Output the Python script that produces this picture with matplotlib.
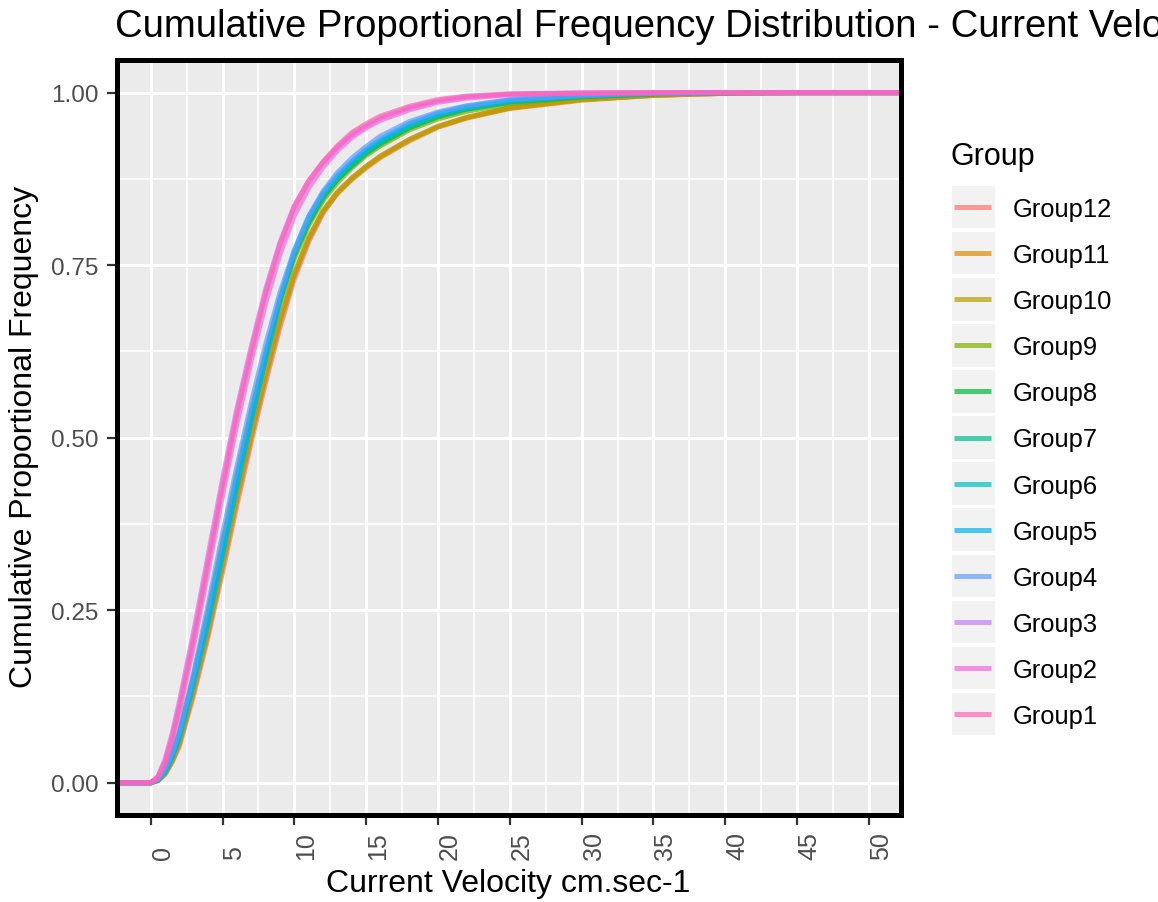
import matplotlib
matplotlib.use("Agg")
import matplotlib.pyplot as plt
from matplotlib.patches import Rectangle
from matplotlib.ticker import MultipleLocator

plt.rcParams['font.family'] = ['Liberation Sans', 'DejaVu Sans']

# velocity grid (cm/sec) and cumulative proportions
velocity = [-5, 0, 0.5, 1, 1.5, 2, 3, 4, 5, 6, 7, 8, 9, 10, 11, 12, 13, 14, 15, 16, 18, 20, 22, 25, 30, 35, 40, 45, 60]

group1 = [0, 0, 0.008, 0.030, 0.066, 0.110, 0.210, 0.320, 0.430, 0.535, 0.625, 0.710, 0.780, 0.835, 0.872, 0.900, 0.923, 0.942, 0.955, 0.966, 0.980, 0.990, 0.995, 0.998, 0.9995, 1, 1, 1, 1]
group2 = [0, 0, 0.007, 0.027, 0.062, 0.103, 0.200, 0.308, 0.417, 0.520, 0.612, 0.695, 0.766, 0.822, 0.862, 0.892, 0.916, 0.935, 0.949, 0.960, 0.975, 0.986, 0.992, 0.997, 0.999, 1, 1, 1, 1]
group3 = [0, 0, 0.009, 0.034, 0.072, 0.118, 0.220, 0.330, 0.440, 0.542, 0.632, 0.715, 0.783, 0.836, 0.872, 0.899, 0.921, 0.939, 0.952, 0.963, 0.978, 0.988, 0.994, 0.998, 0.9995, 1, 1, 1, 1]
group4 = [0, 0, 0.005, 0.020, 0.044, 0.075, 0.160, 0.258, 0.360, 0.458, 0.550, 0.635, 0.710, 0.772, 0.821, 0.857, 0.884, 0.905, 0.922, 0.937, 0.958, 0.972, 0.981, 0.990, 0.996, 0.999, 1, 1, 1]
group5 = [0, 0, 0.004, 0.015, 0.037, 0.065, 0.145, 0.232, 0.330, 0.430, 0.525, 0.615, 0.700, 0.770, 0.820, 0.855, 0.880, 0.900, 0.918, 0.932, 0.955, 0.970, 0.980, 0.989, 0.996, 0.999, 1, 1, 1]
group6 = [0, 0, 0.004, 0.016, 0.038, 0.067, 0.148, 0.236, 0.334, 0.433, 0.527, 0.616, 0.699, 0.767, 0.816, 0.852, 0.878, 0.898, 0.916, 0.930, 0.953, 0.968, 0.978, 0.988, 0.995, 0.999, 1, 1, 1]
group7 = [0, 0, 0.004, 0.017, 0.040, 0.070, 0.152, 0.242, 0.341, 0.440, 0.533, 0.620, 0.700, 0.766, 0.814, 0.850, 0.876, 0.896, 0.914, 0.928, 0.951, 0.967, 0.977, 0.987, 0.995, 0.999, 1, 1, 1]
group8 = [0, 0, 0.005, 0.018, 0.042, 0.072, 0.156, 0.248, 0.348, 0.447, 0.538, 0.623, 0.701, 0.765, 0.812, 0.848, 0.874, 0.894, 0.912, 0.926, 0.949, 0.965, 0.976, 0.986, 0.994, 0.998, 1, 1, 1]
group9 = [0, 0, 0.004, 0.016, 0.039, 0.068, 0.149, 0.239, 0.338, 0.436, 0.528, 0.614, 0.694, 0.760, 0.808, 0.844, 0.870, 0.891, 0.909, 0.923, 0.946, 0.962, 0.973, 0.984, 0.993, 0.998, 1, 1, 1]
group10 = [0, 0, 0.003, 0.013, 0.032, 0.058, 0.135, 0.220, 0.316, 0.414, 0.505, 0.590, 0.670, 0.738, 0.790, 0.829, 0.856, 0.876, 0.893, 0.908, 0.932, 0.951, 0.964, 0.978, 0.990, 0.996, 0.999, 1, 1]
group11 = [0, 0, 0.003, 0.013, 0.032, 0.057, 0.133, 0.218, 0.313, 0.411, 0.502, 0.588, 0.668, 0.736, 0.788, 0.827, 0.854, 0.874, 0.891, 0.906, 0.930, 0.950, 0.963, 0.977, 0.989, 0.996, 0.999, 1, 1]
group12 = [0, 0, 0.003, 0.012, 0.030, 0.053, 0.128, 0.212, 0.305, 0.402, 0.494, 0.580, 0.660, 0.730, 0.784, 0.826, 0.855, 0.876, 0.893, 0.908, 0.932, 0.951, 0.964, 0.978, 0.990, 0.996, 0.999, 1, 1]

# legend order, top to bottom (also drawing order, Group1 ends on top)
group_names = ['Group12', 'Group11', 'Group10', 'Group9', 'Group8', 'Group7',
               'Group6', 'Group5', 'Group4', 'Group3', 'Group2', 'Group1']
group_values = [group12, group11, group10, group9, group8, group7,
                group6, group5, group4, group3, group2, group1]
colors = ['#F8766D', '#DE8C00', '#B79F00', '#7CAE00', '#00BA38', '#00C08B',
          '#00BFC4', '#00B4F0', '#619CFF', '#C77CFF', '#F564E3', '#FF64B0']

x_ticks = [0, 5, 10, 15, 20, 25, 30, 35, 40, 45, 50]
y_ticks = [0.0, 0.25, 0.5, 0.75, 1.0]
y_ticklabels = ['0.00', '0.25', '0.50', '0.75', '1.00']

W, H = 1158, 903
fig = plt.figure(figsize=(W / 100, H / 100), dpi=100)

# panel in pixel units
left, right, top, bottom = 116.8, 900.5, 60.5, 815.5
ax = fig.add_axes([left / W, 1 - bottom / H, (right - left) / W, (bottom - top) / H])
ax.set_facecolor('#EBEBEB')

for name, vals, col in zip(group_names, group_values, colors):
    ax.plot(velocity, vals, color=col, alpha=0.7, lw=3.6, solid_capstyle='butt')

ax.set_xlim(-2.36, 52.2)
ax.set_ylim(-0.046, 1.048)

ax.set_xticks(x_ticks)
ax.set_xticklabels([str(t) for t in x_ticks], rotation=90, ha='left', va='bottom',
                   fontsize=18, color='#4D4D4D')
ax.set_yticks(y_ticks)
ax.set_yticklabels(y_ticklabels, fontsize=17.5, color='#4D4D4D')
ax.xaxis.set_minor_locator(MultipleLocator(2.5))
ax.yaxis.set_minor_locator(MultipleLocator(0.125))
ax.tick_params(axis='both', which='major', length=7.5, width=1.6, color='#333333')
ax.tick_params(axis='x', which='major', pad=24.5)
ax.tick_params(axis='y', which='major', pad=5.5)
ax.tick_params(which='minor', length=0)

ax.grid(which='major', color='white', lw=2.2)
ax.grid(which='minor', color='white', lw=1.1)
ax.set_axisbelow(True)
for sp in ax.spines.values():
    sp.set_color('black')
    sp.set_linewidth(3.6)

# titles (the main title runs past the right edge, as in the original)
fig.text(115 / W, 1 - 37 / H, 'Cumulative Proportional Frequency Distribution - Current Velocity',
         fontsize=27.5, ha='left', va='baseline', color='black')
fig.text((left + right) / 2 / W, 1 - 884 / H, 'Current Velocity cm.sec-1',
         fontsize=23, ha='center', va='center')
fig.text(24 / W, 1 - 437 / H, 'Cumulative Proportional Frequency',
         fontsize=23, ha='center', va='center', rotation=90)

# legend drawn on an overlay in pixel coordinates
lax = fig.add_axes([0, 0, 1, 1])
lax.set_xlim(0, W)
lax.set_ylim(H, 0)
lax.axis('off')
lax.text(951, 157, 'Group', fontsize=22, ha='left', va='center')
row0, pitch = 208, 46.1
for i, (name, col) in enumerate(zip(group_names, colors)):
    yc = row0 + i * pitch
    lax.add_patch(Rectangle((952, yc - 21.3), 43, 42.6, facecolor='#F2F2F2', edgecolor='none'))
    lax.plot([954, 991], [yc, yc], color=col, alpha=0.7, lw=3.6, solid_capstyle='butt')
    lax.text(1013, yc + 2, name, fontsize=18.4, ha='left', va='center')

fig.savefig('out.png', dpi=100)
